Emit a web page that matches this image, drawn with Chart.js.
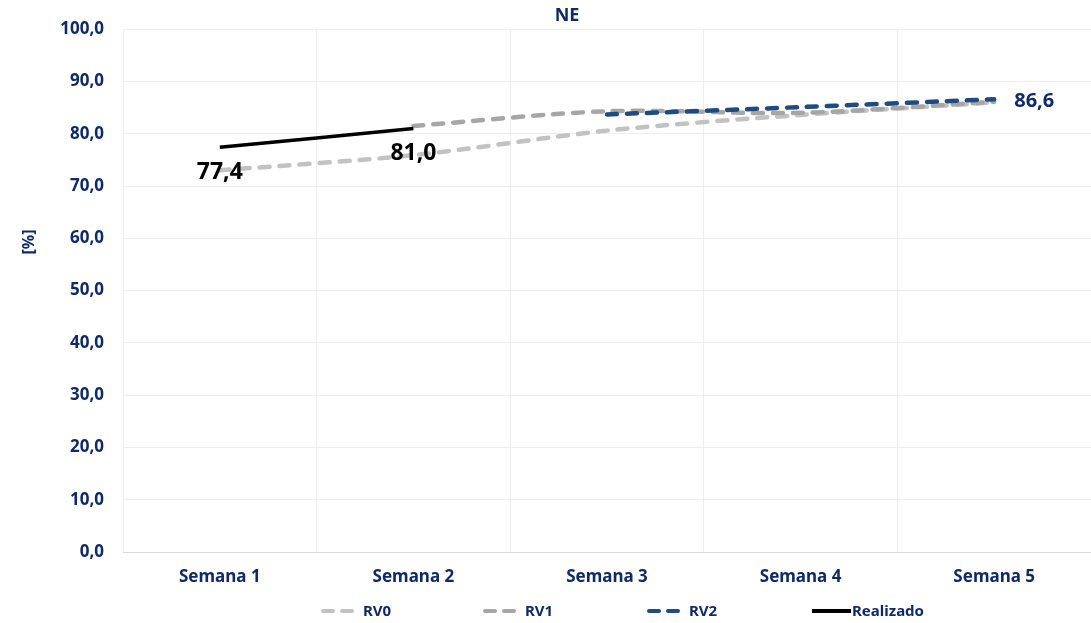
<!DOCTYPE html>
<html>
<head>
<meta charset="utf-8">
<script src="https://cdn.jsdelivr.net/npm/chart.js@4.4.1/dist/chart.umd.min.js"></script>
<style>
  html, body { margin: 0; padding: 0; background: #fff; }
  #wrap { width: 1091px; height: 623px; }
</style>
</head>
<body>
<div id="wrap"><canvas id="chart" width="1091" height="623"></canvas></div>
<script>
const categories = ["Semana 1", "Semana 2", "Semana 3", "Semana 4", "Semana 5"];
const rv0 = [73.0, 75.9, 80.6, 83.6, 86.0];
const rv1 = [null, 81.5, 84.3, 84.0, 86.1];
const rv2 = [null, null, 83.7, 85.1, 86.6];
const realizado = [77.4, 81.0, null, null, null];
const yTicks = [0, 10, 20, 30, 40, 50, 60, 70, 80, 90, 100];

const NAVY = "#0f2a6b";
const FONT = "'Noto Sans', sans-serif";

const fmt = (v) => v.toFixed(1).replace(".", ",");

// labels drawn next to some points
const pointLabels = [
    { ds: 3, idx: 0, dx: 0, dy: 25, size: 23, align: "center", color: "#000" },
    { ds: 3, idx: 1, dx: 0, dy: 25, size: 23, align: "center", color: "#000" },
    { ds: 2, idx: 4, dx: 20, dy: 2, size: 20, align: "left", color: NAVY },
];

const extrasPlugin = {
    id: "extras",
    afterDraw(chart) {
        const ctx = chart.ctx;
        ctx.save();

        // title
        ctx.fillStyle = NAVY;
        ctx.font = `bold 18px ${FONT}`;
        ctx.textAlign = "center";
        ctx.textBaseline = "middle";
        ctx.fillText("NE", 567, 16);

        // y axis title
        ctx.save();
        ctx.translate(29, 242);
        ctx.rotate(-Math.PI / 2);
        ctx.font = `bold 16px ${FONT}`;
        ctx.fillText("[%]", 0, 0);
        ctx.restore();

        // point labels
        pointLabels.forEach((l) => {
            const pt = chart.getDatasetMeta(l.ds).data[l.idx];
            const val = chart.data.datasets[l.ds].data[l.idx];
            ctx.font = `bold ${l.size}px ${FONT}`;
            ctx.textAlign = l.align;
            ctx.fillStyle = l.color;
            ctx.fillText(fmt(val), pt.x + l.dx, pt.y + l.dy);
        });

        // legend
        const legendY = 611;
        const starts = [321, 483, 647, 812];
        ctx.font = `bold 15px ${FONT}`;
        ctx.textAlign = "left";
        chart.data.datasets.forEach((ds, i) => {
            const x = starts[i];
            const solid = !ds.borderDash;
            ctx.beginPath();
            ctx.strokeStyle = ds.borderColor;
            ctx.lineWidth = 4;
            ctx.lineCap = solid ? "butt" : "round";
            ctx.setLineDash(solid ? [] : [10, 9]);
            ctx.moveTo(solid ? x : x + 2, legendY);
            ctx.lineTo(solid ? x + 39 : x + 33, legendY);
            ctx.stroke();
            ctx.setLineDash([]);
            ctx.fillStyle = NAVY;
            ctx.fillText(ds.label, solid ? x + 40 : x + 42, legendY + 1);
        });
        ctx.restore();
    }
};

const dashed = (label, data, color, order) => ({
    label,
    data,
    borderColor: color,
    backgroundColor: color,
    borderWidth: 4.5,
    borderDash: [10, 10],
    borderCapStyle: "round",
    pointRadius: 0,
    tension: 0.3,
    order,
});

new Chart(document.getElementById("chart"), {
    type: "line",
    data: {
        labels: categories,
        datasets: [
            dashed("RV0", rv0, "#c2c2c2", 4),
            dashed("RV1", rv1, "#a6a6a6", 3),
            dashed("RV2", rv2, "#1f4a82", 2),
            {
                label: "Realizado",
                data: realizado,
                borderColor: "#000",
                backgroundColor: "#000",
                borderWidth: 3.5,
                pointRadius: 0,
                tension: 0.3,
                order: 1,
            },
        ],
    },
    options: {
        responsive: false,
        animation: false,
        layout: { padding: { top: 29, left: 0, right: 0, bottom: 31 } },
        plugins: {
            legend: { display: false },
            title: { display: false },
            tooltip: { enabled: false },
        },
        scales: {
            x: {
                offset: true,
                grid: { color: "#eeeeee", drawTicks: false, offset: true },
                border: { color: "#d9d9d9" },
                ticks: {
                    color: NAVY,
                    font: { family: FONT, size: 17, weight: "bold" },
                    padding: 15,
                },
                afterFit: (s) => { s.height = 40; },
            },
            y: {
                min: 0,
                max: 100,
                afterBuildTicks: (s) => { s.ticks = yTicks.map((v) => ({ value: v })); },
                grid: { color: "#eeeeee", drawTicks: false },
                border: { display: false },
                ticks: {
                    color: NAVY,
                    font: { family: FONT, size: 17, weight: "bold" },
                    padding: 19,
                    callback: (v) => fmt(v),
                },
                afterFit: (s) => { s.width = 123; },
            },
        },
    },
    plugins: [extrasPlugin],
});
</script>
</body>
</html>
